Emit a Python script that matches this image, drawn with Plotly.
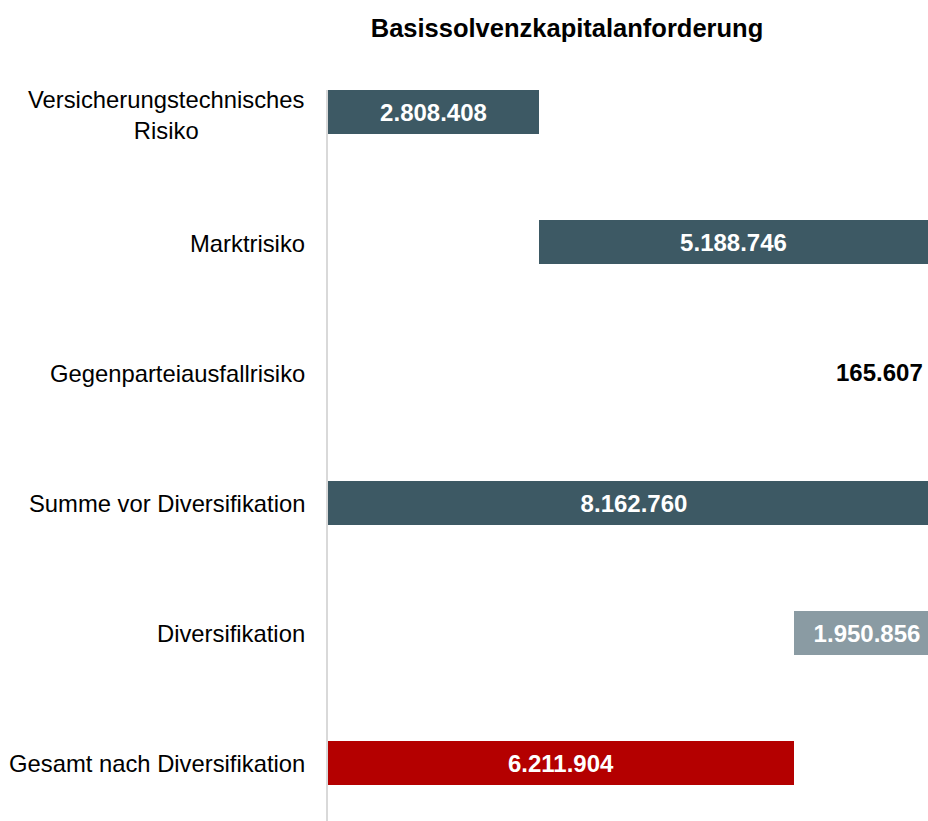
import plotly.graph_objects as go

categories = [
    "Versicherungstechnisches<br>Risiko",
    "Marktrisiko",
    "Gegenparteiausfallrisiko",
    "Summe vor Diversifikation",
    "Diversifikation",
    "Gesamt nach Diversifikation",
]
values = [2808408, 5188746, 165607, 8162760, 1950856, 6211904]
kinds = ["step", "step", "step", "total", "reduction", "result"]
labels = ["2.808.408", "5.188.746", "165.607", "8.162.760", "1.950.856", "6.211.904"]
x_max = 8000000

color_map = {"step": "#3D5964", "total": "#3D5964", "reduction": "#8A9BA3", "result": "#B40000"}

# waterfall bases derived from the data
bases = []
running = 0
for v, k in zip(values, kinds):
    if k == "step":
        bases.append(running)
        running += v
    elif k == "total":
        bases.append(0)
        running = v
    elif k == "reduction":
        running -= v
        bases.append(running)
    else:
        bases.append(0)

FONT = "Liberation Sans, Arial, sans-serif"
ys = list(range(len(categories)))

# bars too small to hold their label get it outside, at the right edge
small = [v < 0.1 * x_max for v in values]
bar_text = [("" if s else lab) for s, lab in zip(small, labels)]

fig = go.Figure()
fig.add_trace(go.Bar(
    y=ys, x=values, base=bases, orientation="h",
    marker=dict(color=[color_map[k] for k in kinds], line=dict(width=0)),
    width=0.338,
    text=bar_text, textposition="inside", insidetextanchor="middle",
    textangle=0, constraintext="none",
    textfont=dict(family=FONT, size=24, color="white", weight="bold"),
    hoverinfo="skip",
))

annotations = []
for y, c in zip(ys, categories):
    multi = "<br>" in c
    annotations.append(dict(
        x=0, xref="paper", y=y, yref="y", text=c, showarrow=False,
        xanchor="right", yanchor="middle", align="center", xshift=-21,
        yshift=-3 if multi else -1,
        font=dict(family=FONT, size=23.8, color="#000000"),
    ))
for y, s, lab in zip(ys, small, labels):
    if s:
        annotations.append(dict(
            x=1, xref="paper", y=y, yref="y", text="<b>" + lab + "</b>",
            showarrow=False, xanchor="right", yanchor="middle", xshift=-3,
            font=dict(family=FONT, size=24, color="#000000"),
        ))

fig.update_layout(
    width=928, height=821,
    margin=dict(l=328, r=0, t=90, b=0),
    paper_bgcolor="white", plot_bgcolor="white",
    title=dict(text="<b>Basissolvenzkapitalanforderung</b>", x=0.611, xref="container",
               xanchor="center", y=1 - 28 / 821, yanchor="middle",
               font=dict(family=FONT, size=25.5, color="#000000")),
    xaxis=dict(range=[0, x_max], visible=False, showgrid=False, zeroline=False),
    yaxis=dict(range=[5.446, -0.169], showgrid=False, zeroline=False,
               showticklabels=False, ticks="", showline=True,
               linecolor="#D9D9D9", linewidth=2),
    annotations=annotations,
    showlegend=False,
    bargap=0,
)

fig.write_html(
    "out.html",
    config={"displayModeBar": False},
    post_script="document.body.style.margin='0';document.body.style.overflow='hidden';",
)
